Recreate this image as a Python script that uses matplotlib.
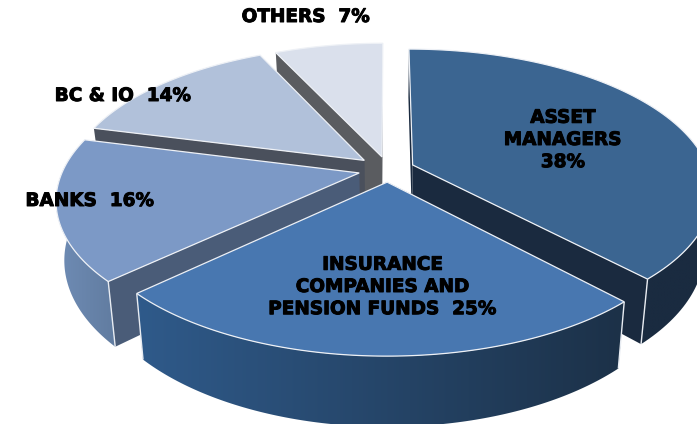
import numpy as np
import matplotlib
matplotlib.use('Agg')
import matplotlib.pyplot as plt
import matplotlib.patheffects as pe
from matplotlib.patches import Polygon
from matplotlib.colors import to_rgb

# data
names = ['ASSET\nMANAGERS\n38%', 'INSURANCE\nCOMPANIES AND\nPENSION FUNDS  25%',
         'BANKS  16%', 'BC & IO  14%', 'OTHERS  7%']
shares = [38, 25, 16, 14, 7]

# look of each slice
tops = ['#3b6591', '#4877b0', '#7c99c6', '#b1c1da', '#dae0ec']
cuts = ['#1a2a3f', '#1c3148', '#4a5c78', '#4a505c', '#5a5c60']
rim_left = ['#1a2b40', '#2f5a8a', '#6f8cb5', '#8a9ab5', '#a0a8b8']
rim_right = ['#1a2b40', '#1c3148', '#617ca0', '#8a9ab5', '#a0a8b8']
draw_order = [4, 3, 2, 0, 1]
label_xy = [(563, 140), (383, 287), (90, 201), (123, 96), (306, 17)]
explode = [0.09, 0.09, 0.10, 0.105, 0.095]

# fake camera for the 3d pie
cx, cy = 388, 169.5
A, B, k = 296, 138, 0.178
depth = 57
shrink = 0.975


def project(X, Y):
    s = 1 / (1 + k * Y)
    return cx + A * X * s, cy - B * Y * s, s


def lower(sx, sy, s):
    return cx + (sx - cx) * shrink, sy + depth * s


fig = plt.figure(figsize=(6.97, 4.24), dpi=100)
ax = fig.add_axes([0, 0, 1, 1])

edges = np.cumsum([0] + shares) / sum(shares) * 2 * np.pi
z = 1

for i in draw_order:
    a0, a1 = edges[i], edges[i + 1]
    mid = (a0 + a1) / 2
    th = np.linspace(a0, a1, 120)
    ox, oy = explode[i] * np.sin(mid), explode[i] * np.cos(mid)
    x, y, s = project(ox + np.sin(th), oy + np.cos(th))
    x0, y0, s0 = project(ox, oy)
    bx, by = lower(x, y, s)
    bx0, by0 = lower(x0, y0, s0)

    # cut faces
    for j in (0, -1):
        ax.fill([x0, x[j], bx[j], bx0], [y0, y[j], by[j], by0], color=cuts[i], lw=0, zorder=z)
        z += 1

    # outer wall, only the part facing us, gradient image clipped to its shape
    front = np.cos(th) < 0.15
    if front.any():
        fx, fy, gx, gy = x[front], y[front], bx[front], by[front]
        grad = np.array([np.array(to_rgb(rim_left[i])) * (1 - t) + np.array(to_rgb(rim_right[i])) * t
                         for t in np.linspace(0, 1, 64)])[None, :, :]
        wall = Polygon(np.c_[np.r_[fx, gx[::-1]], np.r_[fy, gy[::-1]]], closed=True, transform=ax.transData, fc='none', lw=0)
        im = ax.imshow(grad, extent=[min(fx.min(), gx.min()), max(fx.max(), gx.max()), gy.max(), fy.min()],
                       aspect='auto', interpolation='bilinear', zorder=z)
        ax.add_patch(wall)
        im.set_clip_path(wall)
        z += 1

    # white corner lines
    for j in (0, -1):
        if y[j] > y0 and front[j]:
            ax.plot([x[j], bx[j]], [y[j], by[j]], color='#e8ecf2', lw=1.0, solid_capstyle='butt', zorder=z)
            z += 1

    ax.fill(np.r_[x0, x], np.r_[y0, y], facecolor=tops[i], edgecolor='#eef1f6', lw=0.9, zorder=z)
    z += 1

ax.set_xlim(0, 697)
ax.set_ylim(424, 0)
ax.axis('off')

for n, (lx, ly) in zip(names, label_xy):
    ax.text(lx, ly, n, ha='center', va='center', family='DejaVu Sans', weight='bold',
            fontsize=13.3, linespacing=1.3, color='black', zorder=z,
            path_effects=[pe.withStroke(linewidth=0.7, foreground='black')])

fig.savefig('out.png', dpi=100, facecolor='white')
